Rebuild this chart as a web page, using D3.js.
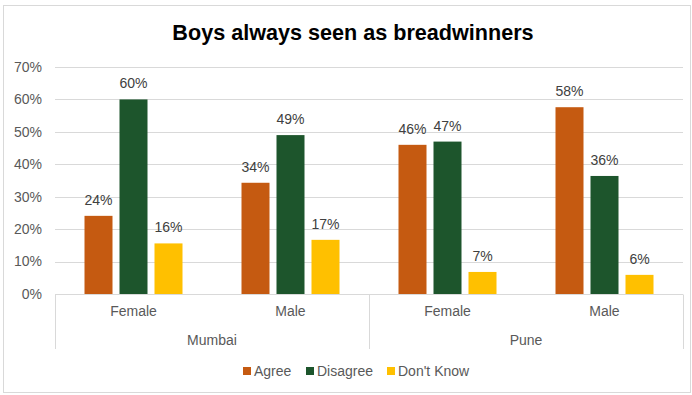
<!DOCTYPE html>
<html>
<head>
<meta charset="utf-8">
<script src="https://cdn.jsdelivr.net/npm/d3@7"></script>
<style>
  body { margin: 0; background: #fff; }
  text { font-family: "Liberation Sans", Arial, sans-serif; }
</style>
</head>
<body>
<svg id="chart" width="692" height="395"></svg>
<script>
// data
const cities = ["Mumbai", "Pune"];
const genders = ["Female", "Male"];
const series = ["Agree", "Disagree", "Don't Know"];
const agree = [24.1, 34.3, 46.0, 57.6];
const disagree = [60.0, 49.0, 47.0, 36.4];
const dontKnow = [15.6, 16.7, 6.8, 5.9];
const yTicks = [0, 10, 20, 30, 40, 50, 60, 70];

const colors = {
    "Agree": "#C55A11",
    "Disagree": "#1D552C",
    "Don't Know": "#FFC000"
};

const width = 692;
const height = 395;
const margin = { top: 67, right: 9, bottom: 101, left: 55 };

const svg = d3.select("#chart");

// chart border
svg.append("rect")
    .attr("x", 3.5).attr("y", 5.5)
    .attr("width", 687).attr("height", 387)
    .attr("fill", "#fff")
    .attr("stroke", "#d9d9d9");

// title
svg.append("text")
    .attr("x", 353).attr("y", 40)
    .attr("text-anchor", "middle")
    .attr("font-size", 21.6)
    .attr("font-weight", "bold")
    .attr("fill", "#000")
    .text("Boys always seen as breadwinners");

// build rows: one per city/gender
const rows = [];
cities.forEach(function (c, i) {
    genders.forEach(function (g, j) {
        const k = i * genders.length + j;
        rows.push({
            key: c + "|" + g, city: c, gender: g,
            values: { "Agree": agree[k], "Disagree": disagree[k], "Don't Know": dontKnow[k] }
        });
    });
});

// scales
const x0 = d3.scaleBand()
    .domain(rows.map(function (d) { return d.key; }))
    .range([margin.left, width - margin.right])
    .paddingInner(0)
    .paddingOuter(0);

const x1 = d3.scaleBand()
    .domain(series)
    .range([0, 98])
    .paddingInner(0.2);

const yScale = d3.scaleLinear()
    .domain([0, 70])
    .range([height - margin.bottom, margin.top]);

// gridlines
svg.append("g")
    .selectAll("line")
    .data(yTicks.slice(1))
    .join("line")
    .attr("x1", margin.left).attr("x2", width - margin.right)
    .attr("y1", function (d) { return Math.round(yScale(d)) + 0.5; })
    .attr("y2", function (d) { return Math.round(yScale(d)) + 0.5; })
    .attr("stroke", "#d9d9d9")
    .attr("stroke-width", 1);

// y axis labels
svg.append("g")
    .selectAll("text")
    .data(yTicks)
    .join("text")
    .attr("x", 42)
    .attr("y", function (d) { return yScale(d); })
    .attr("dy", "0.35em")
    .attr("text-anchor", "end")
    .attr("font-size", 14)
    .attr("fill", "#595959")
    .text(function (d) { return d + "%"; });

// bars
const groups = svg.append("g")
    .selectAll("g")
    .data(rows)
    .join("g")
    .attr("transform", function (d) {
        return "translate(" + (x0(d.key) + (x0.bandwidth() - 98) / 2) + ",0)";
    });

groups.selectAll("rect")
    .data(function (d) { return series.map(function (s) { return { s: s, v: d.values[s] }; }); })
    .join("rect")
    .attr("x", function (d) { return x1(d.s); })
    .attr("y", function (d) { return yScale(d.v); })
    .attr("width", x1.bandwidth())
    .attr("height", function (d) { return yScale(0) - yScale(d.v); })
    .attr("fill", function (d) { return colors[d.s]; });

// value labels
groups.selectAll("text")
    .data(function (d) { return series.map(function (s) { return { s: s, v: d.values[s] }; }); })
    .join("text")
    .attr("x", function (d) { return x1(d.s) + x1.bandwidth() / 2; })
    .attr("y", function (d) { return yScale(d.v) - 11; })
    .attr("text-anchor", "middle")
    .attr("font-size", 14)
    .attr("fill", "#404040")
    .text(function (d) { return Math.round(d.v) + "%"; });

// category axis
const axisY = Math.round(yScale(0)) + 0.5;
svg.append("line")
    .attr("x1", margin.left).attr("x2", width - margin.right)
    .attr("y1", axisY).attr("y2", axisY)
    .attr("stroke", "#d9d9d9");

const cityEdges = [margin.left, x0(cities[1] + "|" + genders[0]), width - margin.right];
svg.append("g")
    .selectAll("line")
    .data(cityEdges)
    .join("line")
    .attr("x1", function (d) { return Math.round(d) + 0.5; })
    .attr("x2", function (d) { return Math.round(d) + 0.5; })
    .attr("y1", axisY).attr("y2", 349)
    .attr("stroke", "#d9d9d9");

svg.append("g")
    .selectAll("text")
    .data(rows)
    .join("text")
    .attr("x", function (d) { return x0(d.key) + x0.bandwidth() / 2; })
    .attr("y", 316)
    .attr("text-anchor", "middle")
    .attr("font-size", 14)
    .attr("fill", "#595959")
    .text(function (d) { return d.gender; });

svg.append("g")
    .selectAll("text")
    .data(cities)
    .join("text")
    .attr("x", function (d) {
        return (x0(d + "|" + genders[0]) + x0(d + "|" + genders[1]) + x0.bandwidth()) / 2;
    })
    .attr("y", 345)
    .attr("text-anchor", "middle")
    .attr("font-size", 14)
    .attr("fill", "#595959")
    .text(function (d) { return d; });

// legend
const legendX = [243, 306, 387];
const legend = svg.append("g")
    .selectAll("g")
    .data(series)
    .join("g")
    .attr("transform", function (d, i) { return "translate(" + legendX[i] + ",371)"; });

legend.append("rect")
    .attr("x", 0).attr("y", -4)
    .attr("width", 8).attr("height", 8)
    .attr("fill", function (d) { return colors[d]; });

legend.append("text")
    .attr("x", 11)
    .attr("dy", "0.35em")
    .attr("font-size", 14)
    .attr("fill", "#595959")
    .text(function (d) { return d; });
</script>
</body>
</html>
